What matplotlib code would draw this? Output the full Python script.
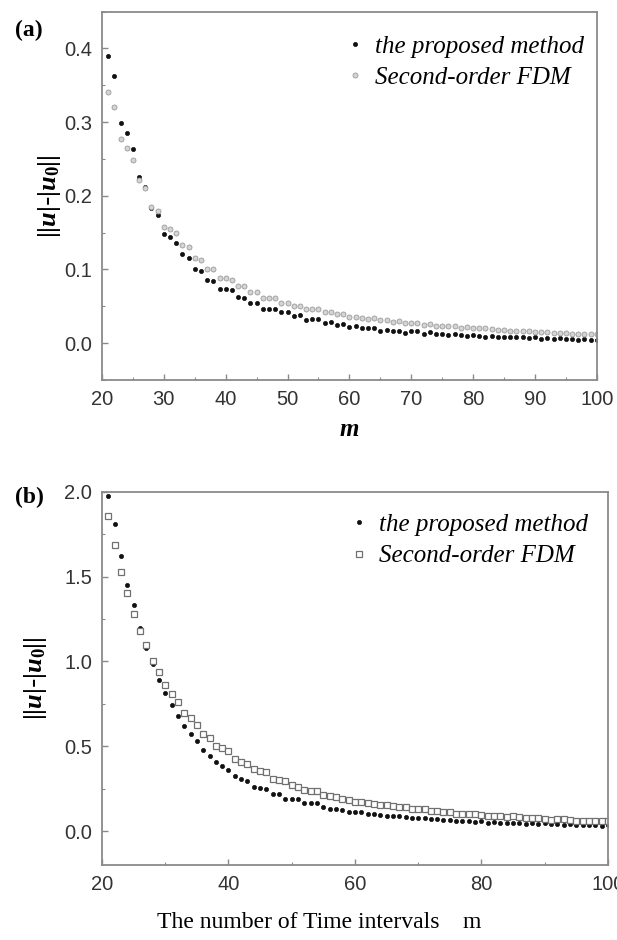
import matplotlib
matplotlib.use("Agg")
import matplotlib.pyplot as plt
from matplotlib.ticker import MultipleLocator

# time intervals m
m_a = list(range(21, 101))
m_b = list(range(21, 101))

# panel (a)
proposed_a = [
    0.390, 0.363, 0.299, 0.285, 0.264, 0.226, 0.212, 0.183, 0.174, 0.148,
    0.144, 0.136, 0.121, 0.116, 0.101, 0.098, 0.086, 0.085, 0.073, 0.073,
    0.072, 0.063, 0.062, 0.055, 0.055, 0.047, 0.047, 0.047, 0.042, 0.042,
    0.037, 0.038, 0.032, 0.033, 0.033, 0.028, 0.029, 0.025, 0.026, 0.022,
    0.023, 0.020, 0.020, 0.021, 0.017, 0.018, 0.016, 0.017, 0.014, 0.016,
    0.017, 0.013, 0.015, 0.013, 0.013, 0.011, 0.012, 0.011, 0.010, 0.011,
    0.010, 0.009, 0.010, 0.009, 0.008, 0.009, 0.008, 0.008, 0.007, 0.008,
    0.006, 0.007, 0.006, 0.007, 0.006, 0.006, 0.005, 0.006, 0.005, 0.005,
]
fdm_a = [
    0.341, 0.321, 0.277, 0.265, 0.249, 0.222, 0.210, 0.185, 0.180, 0.158,
    0.155, 0.150, 0.133, 0.131, 0.115, 0.113, 0.100, 0.100, 0.089, 0.088,
    0.086, 0.077, 0.077, 0.069, 0.069, 0.062, 0.062, 0.062, 0.055, 0.055,
    0.050, 0.050, 0.047, 0.047, 0.046, 0.042, 0.042, 0.039, 0.039, 0.036,
    0.036, 0.034, 0.033, 0.034, 0.031, 0.031, 0.029, 0.030, 0.027, 0.028,
    0.027, 0.025, 0.026, 0.024, 0.024, 0.023, 0.023, 0.021, 0.022, 0.021,
    0.020, 0.021, 0.019, 0.018, 0.018, 0.017, 0.017, 0.016, 0.016, 0.015,
    0.015, 0.015, 0.014, 0.014, 0.014, 0.013, 0.013, 0.012, 0.012, 0.012,
]

# panel (b)
proposed_b = [
    1.976, 1.810, 1.620, 1.450, 1.330, 1.200, 1.079, 0.985, 0.892, 0.814,
    0.743, 0.680, 0.622, 0.573, 0.530, 0.480, 0.445, 0.406, 0.382, 0.359,
    0.324, 0.304, 0.294, 0.261, 0.255, 0.250, 0.220, 0.216, 0.190, 0.190,
    0.190, 0.163, 0.165, 0.165, 0.143, 0.130, 0.128, 0.126, 0.112, 0.114,
    0.112, 0.100, 0.098, 0.097, 0.090, 0.088, 0.086, 0.080, 0.079, 0.078,
    0.076, 0.069, 0.070, 0.068, 0.066, 0.060, 0.058, 0.060, 0.055, 0.058,
    0.050, 0.052, 0.048, 0.050, 0.046, 0.048, 0.044, 0.046, 0.042, 0.045,
    0.040, 0.042, 0.038, 0.040, 0.035, 0.038, 0.033, 0.036, 0.031, 0.034,
]
fdm_b = [
    1.857, 1.685, 1.529, 1.402, 1.279, 1.181, 1.094, 1.000, 0.935, 0.863,
    0.808, 0.759, 0.694, 0.667, 0.625, 0.575, 0.549, 0.504, 0.490, 0.470,
    0.422, 0.406, 0.398, 0.363, 0.353, 0.347, 0.308, 0.300, 0.294, 0.269,
    0.261, 0.241, 0.238, 0.236, 0.212, 0.205, 0.200, 0.190, 0.182, 0.174,
    0.170, 0.165, 0.158, 0.155, 0.155, 0.145, 0.142, 0.140, 0.133, 0.132,
    0.130, 0.120, 0.118, 0.112, 0.112, 0.103, 0.100, 0.098, 0.098, 0.092,
    0.090, 0.088, 0.086, 0.085, 0.086, 0.080, 0.078, 0.075, 0.076, 0.072,
    0.068, 0.070, 0.072, 0.063, 0.062, 0.060, 0.062, 0.058, 0.057, 0.058,
]

labels = ["the proposed method", "Second-order FDM"]

plt.rcParams['mathtext.fontset'] = 'custom'
plt.rcParams['mathtext.rm'] = 'Liberation Serif:bold'
plt.rcParams['mathtext.it'] = 'Liberation Serif:italic:bold'

SPINE = '#8a8a8a'
TICKTXT = '#333333'
LEG_FONT = {'family': 'Liberation Serif', 'style': 'italic', 'size': 18}


def style_axes(ax, xmaj, xmin, ymaj, ymin):
    for s in ax.spines.values():
        s.set_color(SPINE)
        s.set_linewidth(1.3)
    ax.xaxis.set_major_locator(MultipleLocator(xmaj))
    ax.xaxis.set_minor_locator(MultipleLocator(xmin))
    ax.yaxis.set_major_locator(MultipleLocator(ymaj))
    ax.yaxis.set_minor_locator(MultipleLocator(ymin))
    ax.tick_params(which='both', direction='in', color=SPINE, top=False, right=False)
    ax.tick_params(which='major', length=4, width=1, labelsize=14.5, labelcolor=TICKTXT, pad=7)
    ax.tick_params(which='minor', length=2.5, width=0.8)
    for lab in ax.get_xticklabels() + ax.get_yticklabels():
        lab.set_fontfamily('Liberation Sans')


fig = plt.figure(figsize=(6.17, 9.40), dpi=100)

# (a)
ax1 = fig.add_axes([0.1653, 0.5957, 0.802, 0.392])
ax1.plot(m_a, proposed_a, 'o', ms=3, mfc='#111111', mec='#111111', mew=0.5, label=labels[0])
ax1.plot(m_a, fdm_a, 'o', ms=3.6, mfc='#d4d4d4', mec='#9a9a9a', mew=0.6, label=labels[1])
ax1.set_xlim(20, 100)
ax1.set_ylim(-0.05, 0.45)
style_axes(ax1, 10, 5, 0.1, 0.05)
ax1.set_yticks([0.0, 0.1, 0.2, 0.3, 0.4])
ax1.set_yticklabels(['0.0', '0.1', '0.2', '0.3', '0.4'], family='Liberation Sans')
ax1.set_xlabel(r'$m$', fontsize=18, labelpad=6)
ax1.set_ylabel(r'$||u|$-$|u_0||$', fontsize=19, labelpad=1)
ax1.legend(loc='upper right', bbox_to_anchor=(1.0, 0.97), frameon=False,
           handletextpad=0.3, handlelength=1.0, borderaxespad=0.1, labelspacing=0.35,
           prop=LEG_FONT)
fig.text(0.025, 0.968, '(a)', fontsize=17, fontweight='bold', family='Liberation Serif', va='center')

# (b)
ax2 = fig.add_axes([0.1653, 0.0798, 0.820, 0.397])
ax2.plot(m_b, proposed_b, 'o', ms=3, mfc='#111111', mec='#111111', mew=0.5, label=labels[0])
ax2.plot(m_b, fdm_b, 's', ms=4.8, mfc='white', mec='#707070', mew=0.9, label=labels[1])
ax2.set_xlim(20, 100)
ax2.set_ylim(-0.2, 2.0)
style_axes(ax2, 20, 10, 0.5, 0.25)
ax2.set_yticks([0.0, 0.5, 1.0, 1.5, 2.0])
ax2.set_yticklabels(['0.0', '0.5', '1.0', '1.5', '2.0'], family='Liberation Sans')
ax2.set_xlabel('The number of Time intervals    m', fontsize=17, family='Liberation Serif')
ax2.xaxis.set_label_coords(0.43, -0.125)
ax2.set_ylabel(r'$||u|$-$|u_0||$', fontsize=19, labelpad=11)
ax2.legend(loc='upper right', bbox_to_anchor=(0.985, 0.975), frameon=False,
           handletextpad=0.3, handlelength=1.0, borderaxespad=0.1, labelspacing=0.35,
           prop=LEG_FONT)
fig.text(0.025, 0.471, '(b)', fontsize=17, fontweight='bold', family='Liberation Serif', va='center')

fig.savefig('out.png', dpi=100)
